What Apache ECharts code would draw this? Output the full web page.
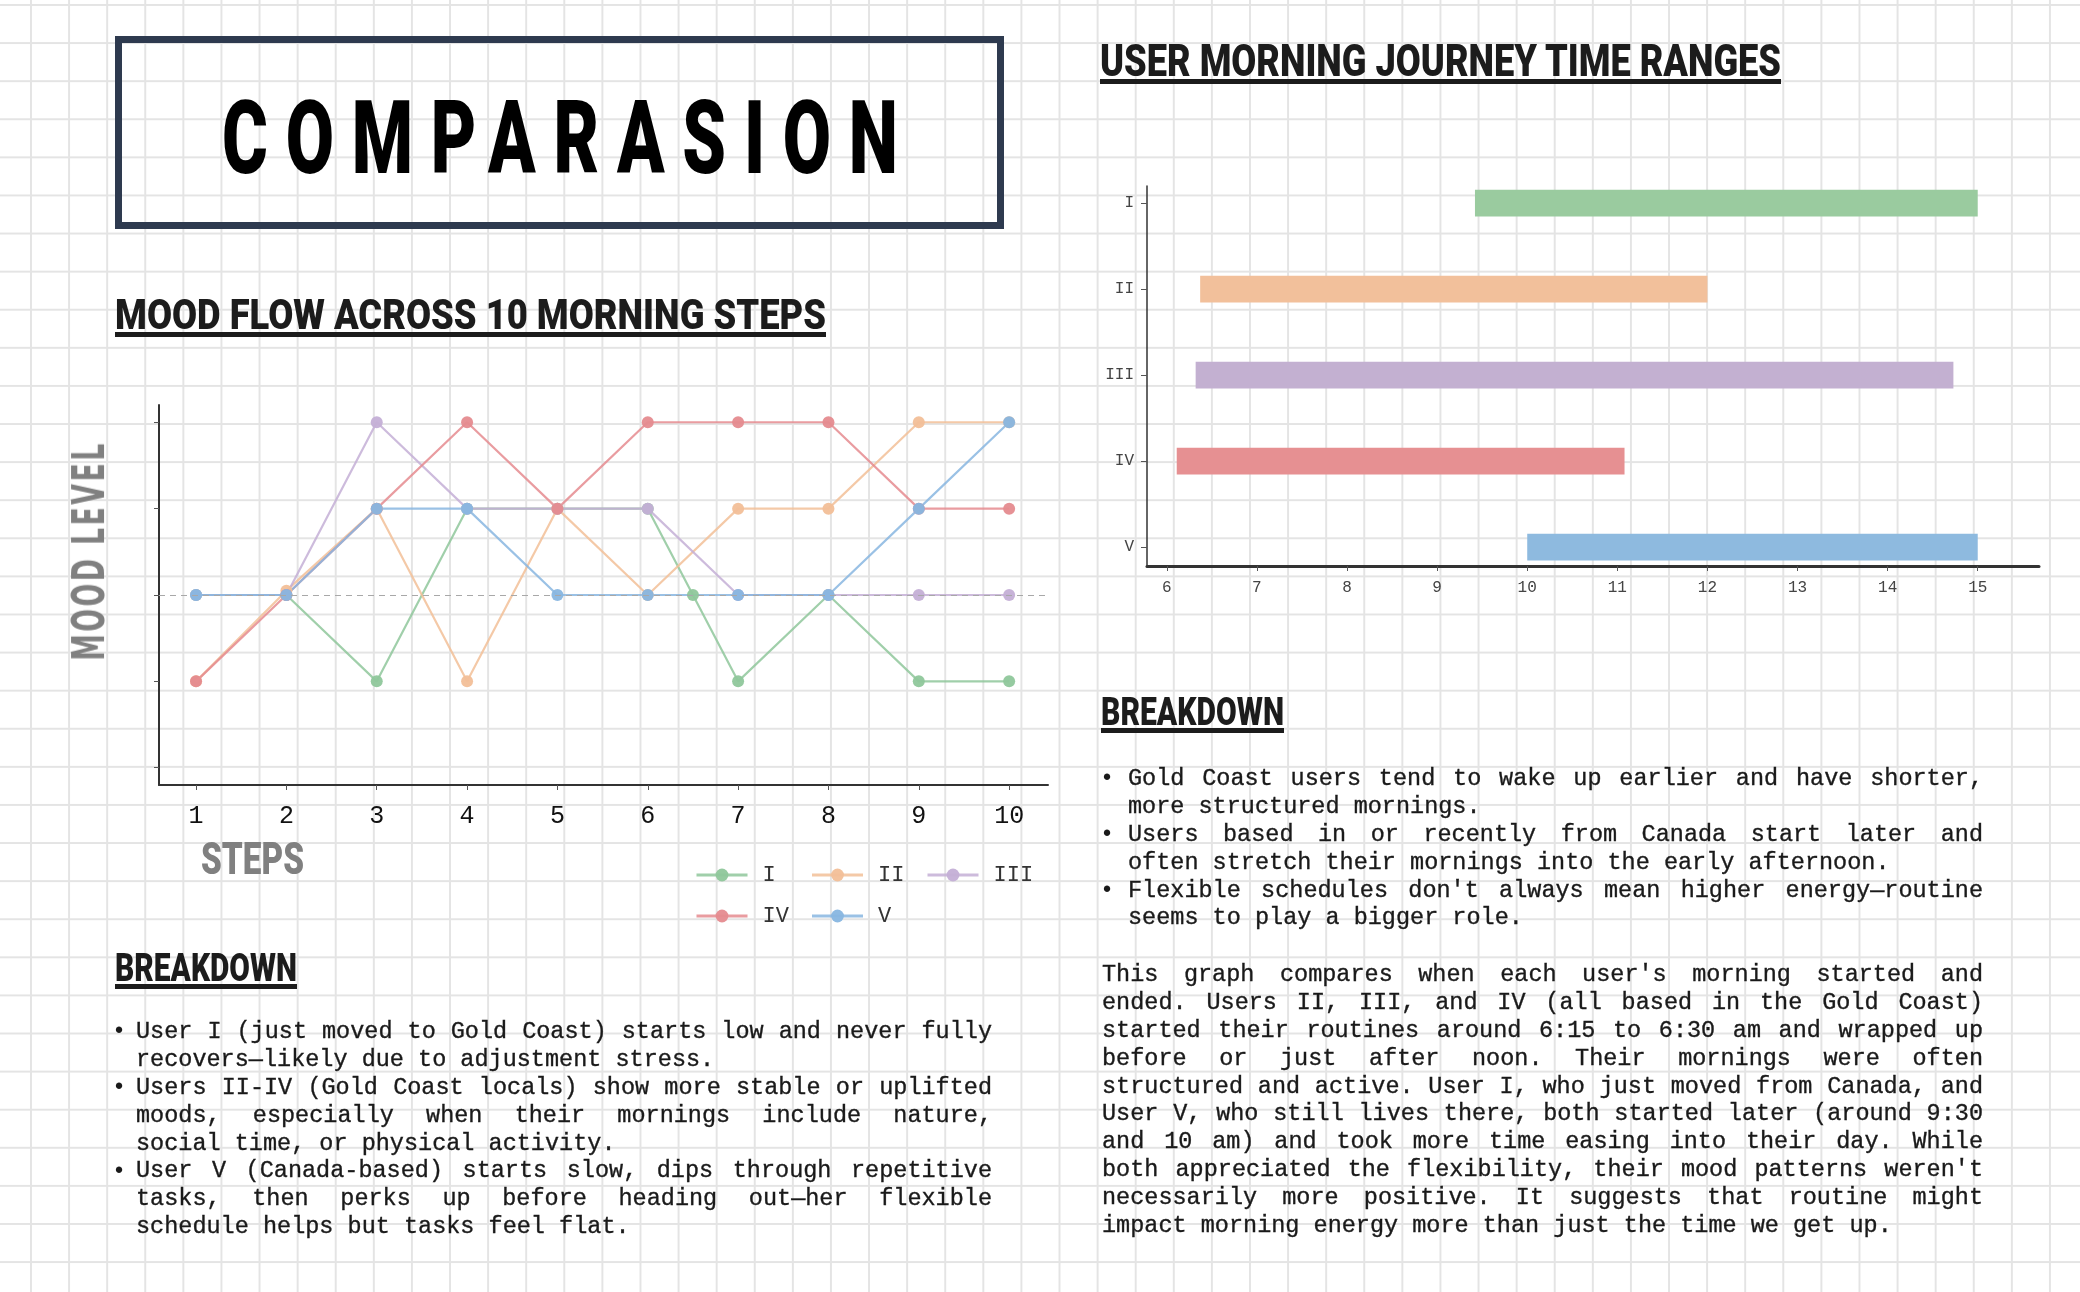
<!DOCTYPE html>
<html>
<head>
<meta charset="utf-8">
<script src="https://cdn.jsdelivr.net/npm/echarts@6/dist/echarts.min.js"></script>
<style>
  html, body { margin: 0; padding: 0; }
  body {
    width: 2080px; height: 1292px; overflow: hidden; position: relative;
    background-color: #fff;
    background-image:
      linear-gradient(to right, #e4e4e4 2px, transparent 2px),
      linear-gradient(to bottom, #e4e4e4 2px, transparent 2px);
    background-size: 38.1px 38.1px;
    background-position: 30px 4px;
  }
  #chart { position: absolute; left: 0; top: 0; width: 2080px; height: 1292px; }
  .box { position: absolute; left: 115px; top: 36px; width: 889px; height: 193px;
         border: 7px solid #2e3a4f; box-sizing: border-box; }
  .head { position: absolute; white-space: nowrap; line-height: 1; transform-origin: 0 0;
          font-family: Roboto, "Liberation Sans", sans-serif; font-weight: 900; color: #1c1c1c; }
  .rule { position: absolute; height: 5px; background: #1c1c1c; }
  .txt { position: absolute; font-family: "Liberation Mono", monospace; font-size: 23.5px;
         line-height: 27.9px; color: #1a1a1a; -webkit-text-stroke: 0.35px #1a1a1a; }
  .txt div { text-align: justify; text-align-last: justify; height: 27.9px; }
  .txt div.last { text-align-last: left; }
  .bul { position: absolute; font-family: "Liberation Mono", monospace; font-size: 23.5px; line-height: 27.9px; color: #1a1a1a; }
</style>
</head>
<body>
<div id="chart"></div>
<div class="box"></div>
<div id="texts"></div>
<script>
// ---- data ----
const users = ['I', 'II', 'III', 'IV', 'V'];
const steps = [1, 2, 3, 4, 5, 6, 7, 8, 9, 10];
const moodTicks = [-2, -1, 0, 1, 2];
// user I has an extra point between step 6 and 7
const moodI = [[1, 0], [2, 0], [3, -1], [4, 1], [5, 1], [6, 1], [6.5, 0], [7, -1], [8, 0], [9, -1], [10, -1]];
const moodII = [-1, 0.05, 1, -1, 1, 0, 1, 1, 2, 2];
const moodIII = [0, 0, 2, 1, 1, 1, 0, 0, 0, 0];
const moodIV = [-1, 0, 1, 2, 1, 2, 2, 2, 1, 1];
const moodV = [0, 0, 1, 1, 0, 0, 0, 0, 1, 2];

const hourTicks = [6, 7, 8, 9, 10, 11, 12, 13, 14, 15];
const startTimes = [9.42, 6.37, 6.32, 6.11, 10.0];
const endTimes = [15.0, 12.0, 14.73, 11.08, 15.0];

const lineColors = ['#8fc79b', '#f2bf98', '#c4afd6', '#e58b8f', '#88b6e0'];
const barColors = ['#9acb9f', '#f2c09b', '#c3b0d1', '#e69092', '#8ebadf'];

const monoFont = '"Liberation Mono", monospace';

function withSteps(vals) {
    return vals.map(function (v, i) { return [steps[i], v]; });
}
const moodSeries = [moodI, withSteps(moodII), withSteps(moodIII), withSteps(moodIV), withSteps(moodV)];

let chart = echarts.init(document.getElementById('chart'), null, {renderer: 'canvas'});

let series = moodSeries.map(function (d, i) {
    let s = {
        name: users[i],
        type: 'line',
        xAxisIndex: 0,
        yAxisIndex: 0,
        data: d,
        symbol: 'circle',
        symbolSize: 12,
        lineStyle: {width: 2.2, opacity: 0.85},
        itemStyle: {color: lineColors[i], opacity: 0.95},
        emphasis: {disabled: true}
    };
    if (i === users.length - 1) {
        s.markLine = {
            silent: true,
            symbol: 'none',
            label: {show: false},
            lineStyle: {color: '#a8a8a8', type: [6, 5], width: 1.2},
            data: [{yAxis: 0}]
        };
    }
    return s;
});

series.push({
    type: 'custom',
    xAxisIndex: 1,
    yAxisIndex: 1,
    encode: {x: [0, 1], y: 2},
    data: users.map(function (u, i) {
        return {value: [startTimes[i], endTimes[i], i], itemStyle: {color: barColors[i]}};
    }),
    renderItem: function (params, api) {
        let y = api.value(2);
        let p0 = api.coord([api.value(0), y]);
        let p1 = api.coord([api.value(1), y]);
        let h = api.size([0, 0.31])[1];
        return {
            type: 'rect',
            shape: {x: p0[0], y: p0[1] - h / 2, width: p1[0] - p0[0], height: h},
            style: {fill: api.visual('color')}
        };
    }
});

let legendBase = {
    left: 690,
    orient: 'horizontal',
    itemWidth: 51,
    itemHeight: 16,
    itemGap: 8,
    selectedMode: false,
    lineStyle: {width: 3},
    textStyle: {fontFamily: monoFont, fontSize: 22, color: '#333', width: 40, lineHeight: 24, padding: [0, 0, 0, 10]}
};

let option = {
    animation: false,
    grid: [
        {left: 159, top: 405, width: 889, height: 380},
        {left: 1147, top: 186, width: 892, height: 380}
    ],
    legend: [
        Object.assign({}, legendBase, {top: 858, data: users.slice(0, 3)}),
        Object.assign({}, legendBase, {top: 899, data: users.slice(3)})
    ],
    xAxis: [
        {
            gridIndex: 0, type: 'value', min: 0.59, max: 10.43,
            axisLine: {onZero: false, lineStyle: {color: '#333', width: 2}},
            axisTick: {show: true, length: 5, customValues: steps, lineStyle: {color: '#555'}},
            axisLabel: {customValues: steps, fontFamily: monoFont, fontSize: 25, color: '#111', margin: 19},
            splitLine: {show: false}
        },
        {
            gridIndex: 1, type: 'value', min: 5.78, max: 15.68,
            axisLine: {onZero: false, lineStyle: {color: '#333', width: 3}},
            axisTick: {show: true, length: 5, customValues: hourTicks, lineStyle: {color: '#555'}},
            axisLabel: {customValues: hourTicks, fontFamily: monoFont, fontSize: 16, color: '#444', margin: 14},
            splitLine: {show: false}
        }
    ],
    yAxis: [
        {
            gridIndex: 0, type: 'value', min: -2.2, max: 2.2,
            axisLine: {show: true, onZero: false, lineStyle: {color: '#333', width: 2}},
            axisTick: {show: true, length: 5, customValues: moodTicks, lineStyle: {color: '#555'}},
            axisLabel: {show: false},
            splitLine: {show: false}
        },
        {
            gridIndex: 1, type: 'value', min: -0.2, max: 4.22, inverse: true,
            axisLine: {show: true, onZero: false, lineStyle: {color: '#333', width: 1.5}},
            axisTick: {show: true, length: 6, customValues: [0, 1, 2, 3, 4], lineStyle: {color: '#555'}},
            axisLabel: {
                customValues: [0, 1, 2, 3, 4], fontFamily: monoFont, fontSize: 16, color: '#444', margin: 13,
                formatter: function (v) { return users[Math.round(v)]; }
            },
            splitLine: {show: false}
        }
    ],
    series: series
};
chart.setOption(option);

// ---- page text ----
const leftLines = [
    ['User I (just moved to Gold Coast) starts low and never fully', 1],
    ['recovers\u2014likely due to adjustment stress.', 2],
    ['Users II-IV (Gold Coast locals) show more stable or uplifted', 1],
    ['moods, especially when their mornings include nature,', 0],
    ['social time, or physical activity.', 2],
    ['User V (Canada-based) starts slow, dips through repetitive', 1],
    ['tasks, then perks up before heading out\u2014her flexible', 0],
    ['schedule helps but tasks feel flat.', 2]
];
const rightBullets = [
    ['Gold Coast users tend to wake up earlier and have shorter,', 1],
    ['more structured mornings.', 2],
    ['Users based in or recently from Canada start later and', 1],
    ['often stretch their mornings into the early afternoon.', 2],
    ['Flexible schedules don\'t always mean higher energy\u2014routine', 1],
    ['seems to play a bigger role.', 2]
];
const rightPara = [
    'This graph compares when each user\'s morning started and',
    'ended. Users II, III, and IV (all based in the Gold Coast)',
    'started their routines around 6:15 to 6:30 am and wrapped up',
    'before or just after noon. Their mornings were often',
    'structured and active. User I, who just moved from Canada, and',
    'User V, who still lives there, both started later (around 9:30',
    'and 10 am) and took more time easing into their day. While',
    'both appreciated the flexibility, their mood patterns weren\'t',
    'necessarily more positive. It suggests that routine might',
    'impact morning energy more than just the time we get up.'
];

const host = document.getElementById('texts');
const LH = 27.9;

function block(lines, left, top, width, bulletLeft) {
    let d = document.createElement('div');
    d.className = 'txt';
    d.style.left = left + 'px';
    d.style.top = top + 'px';
    d.style.width = width + 'px';
    lines.forEach(function (l, i) {
        let row = document.createElement('div');
        row.textContent = l[0];
        if (l[1] === 2) row.className = 'last';
        d.appendChild(row);
        if (l[1] === 1 && bulletLeft != null) {
            let b = document.createElement('div');
            b.className = 'bul';
            b.textContent = '\u2022';
            b.style.left = bulletLeft + 'px';
            b.style.top = (top + i * LH) + 'px';
            host.appendChild(b);
        }
    });
    host.appendChild(d);
}

block(leftLines, 136, 1018, 856, 112);
block(rightBullets, 1128, 765, 855, 1100);
block(rightPara.map(function (t, i) { return [t, i === rightPara.length - 1 ? 2 : 0]; }), 1102, 961, 881, null);

// condensed headings: font size from cap height, squeezed to the measured width
function heading(text, opt) {
    let el = document.createElement('div');
    el.className = 'head';
    el.textContent = text;
    let fs = opt.cap / (opt.capRatio || 0.711);
    el.style.fontSize = fs + 'px';
    if (opt.family) el.style.fontFamily = opt.family;
    if (opt.color) el.style.color = opt.color;
    if (opt.spacing) el.style.letterSpacing = opt.spacing + 'px';
    host.appendChild(el);
    let w = el.getBoundingClientRect().width - (opt.spacing || 0);
    let s = opt.width / w;
    let baseOff = (opt.baseRatio || 0.842) * fs;
    if (opt.rotate) {
        el.style.left = opt.cx + 'px';
        el.style.top = opt.cy + 'px';
        el.style.transformOrigin = '50% 50%';
        el.style.transform = 'translate(-50%,-50%) rotate(-90deg) scaleX(' + s + ')';
        return;
    }
    el.style.left = opt.left + 'px';
    el.style.top = (opt.base - baseOff) + 'px';
    el.style.transform = 'scaleX(' + s + ')';
    if (opt.rule) {
        let r = document.createElement('div');
        r.className = 'rule';
        r.style.left = opt.left + 'px';
        r.style.top = (opt.base + 2) + 'px';
        r.style.width = opt.width + 'px';
        host.appendChild(r);
    }
}

heading('COMPARASION', {left: 222, base: 173, cap: 73, width: 676, spacing: 26, color: '#000'});
heading('MOOD FLOW ACROSS 10 MORNING STEPS', {left: 115, base: 330, cap: 30, width: 711, rule: true});
heading('USER MORNING JOURNEY TIME RANGES', {left: 1100, base: 77, cap: 31, width: 681, rule: true});
heading('BREAKDOWN', {left: 115, base: 982, cap: 27, width: 182, rule: true});
heading('BREAKDOWN', {left: 1101, base: 726, cap: 27, width: 183, rule: true});
heading('STEPS', {left: 201, base: 875, cap: 31, width: 103, color: '#808080'});
heading('MOOD LEVEL', {rotate: true, cx: 89, cy: 551, cap: 32, capRatio: 0.729, width: 217,
    family: '"DejaVu Sans", sans-serif', color: '#808080', spacing: 4});
</script>
</body>
</html>
